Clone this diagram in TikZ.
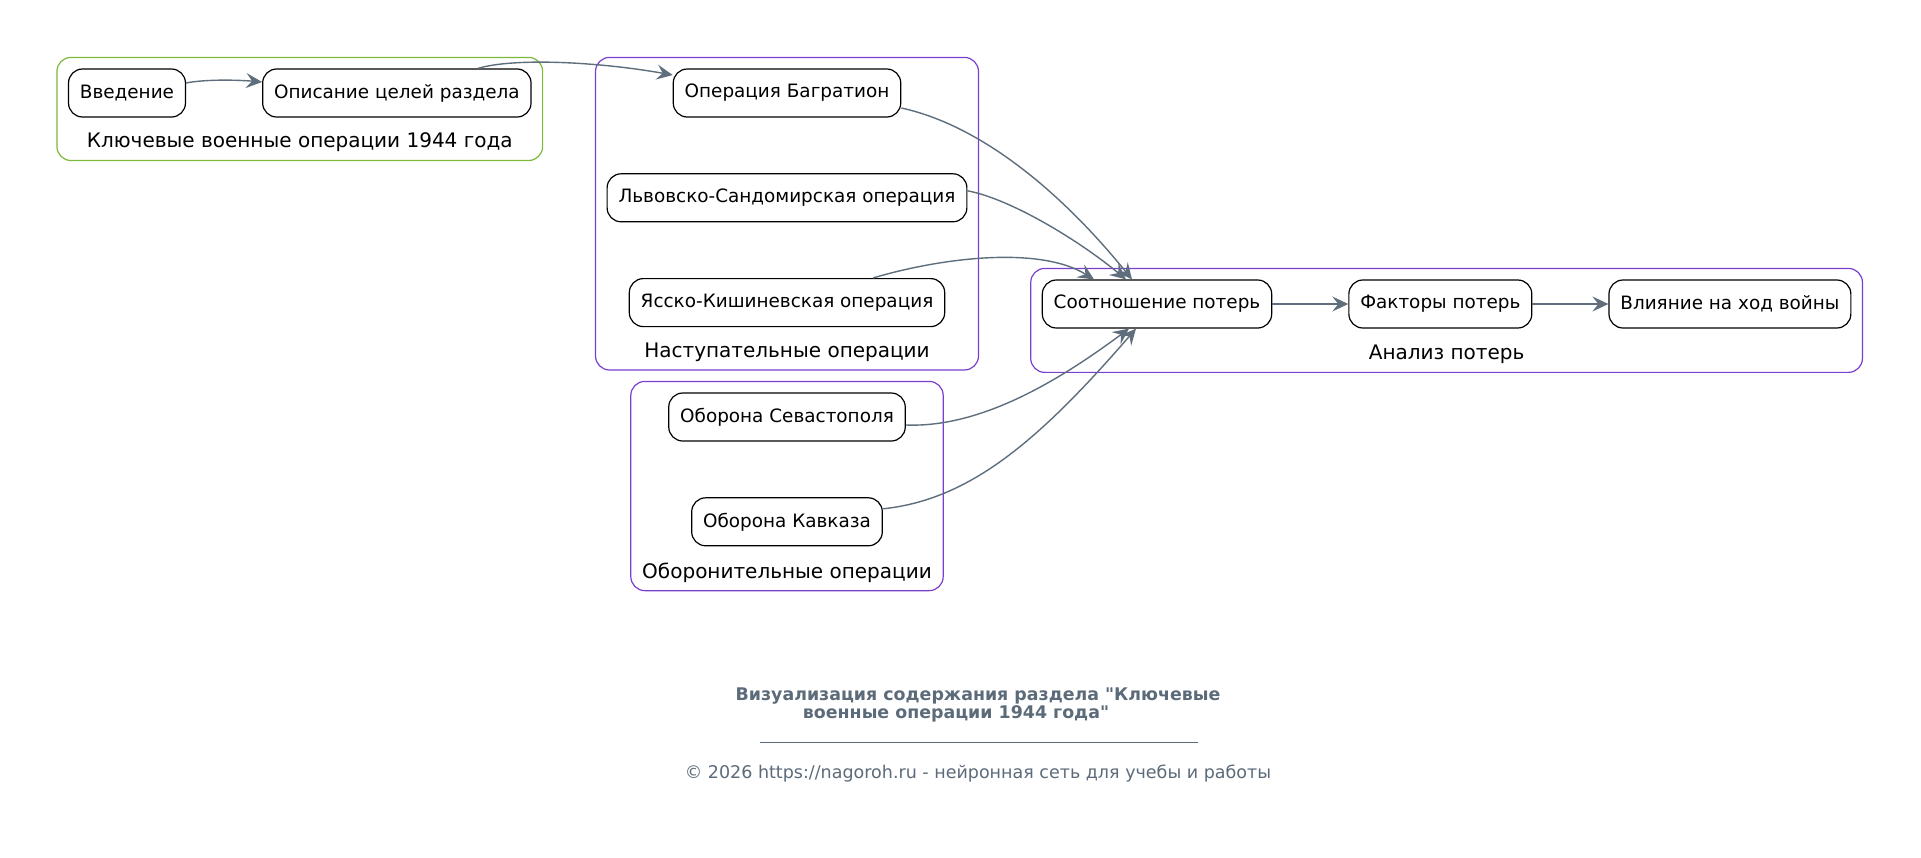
\documentclass[tikz,border=0pt]{standalone}
\usepackage{fontspec}
\setmainfont{DejaVu Sans}
\usetikzlibrary{arrows.meta,positioning,fit,backgrounds,calc}

\definecolor{edgegray}{HTML}{5F6E7C}
\definecolor{grpgreen}{HTML}{7CB83A}
\definecolor{grpviolet}{HTML}{7B3FD0}
\definecolor{notegray}{HTML}{5C6B7A}

\begin{document}
\begin{tikzpicture}[
    x=0.5pt, y=-0.5pt,
    node distance=27.8pt and 38pt,
    topic/.style={draw, rounded corners=7pt, fill=white, line width=0.6pt, minimum height=24pt, inner xsep=5.7pt, font=\fontsize{9.2}{11}\selectfont},
    grp/.style={draw, rounded corners=7pt, line width=0.6pt, inner sep=5.5pt},
    grplabel/.style={inner xsep=0pt, inner ysep=-1.5pt, font=\fontsize{10}{12}\selectfont},
    arrow/.style={->, >={Stealth[length=8pt, width=7.5pt, inset=3pt]}, draw=edgegray, line width=0.7pt}
]
    \useasboundingbox (0,0) rectangle (1921,857);

    % 1944: intro
    \node[topic] (intro) at (127,93) {Введение};
    \node[topic, right=of intro] (goals) {Описание целей раздела};
    \node[grplabel] (lab1) at ($(intro.south west)!0.5!(goals.south east)+(0,25)$) {Ключевые военные операции 1944 года};

    % offensives
    \node[topic] (bagr) at (787,93) {Операция Багратион};
    \node[topic, below=of bagr] (lvov) {Львовско-Сандомирская операция};
    \node[topic, below=of lvov] (yassy) {Ясско-Кишиневская операция};
    \node[grplabel] (lab2) at ($(yassy.south)+(0,25)$) {Наступательные операции};

    % defence
    \node[topic] (sevast) at (787,417) {Оборона Севастополя};
    \node[topic, below=of sevast] (kavkaz) {Оборона Кавказа};
    \node[grplabel] (lab4) at ($(kavkaz.south)+(0,26)$) {Оборонительные операции};

    % losses
    \node[topic] (ratio) at (1157,304) {Соотношение потерь};
    \node[topic, right=of ratio] (factors) {Факторы потерь};
    \node[topic, right=of factors] (impact) {Влияние на ход войны};
    \node[grplabel] (lab3) at ($(ratio.south west)!0.5!(impact.south east)+(0,26)$) {Анализ потерь};

    \begin{scope}[on background layer]
        \fill[white] (0,0) rectangle (1921,857);
        \node[grp, draw=grpgreen, fit=(intro)(goals)(lab1)] (keyops) {};
        \node[grp, draw=grpviolet, fit=(bagr)(lvov)(yassy)(lab2)] (offense) {};
        \node[grp, draw=grpviolet, fit=(sevast)(kavkaz)(lab4)] (defense) {};
        \node[grp, draw=grpviolet, fit=(ratio)(factors)(impact)(lab3)] (losses) {};
    \end{scope}

    \draw[arrow] ($(intro.east)+(0,-10)$) .. controls +(20,-4) and +(-23,-2) .. ($(goals.west)+(0,-11)$);
    \draw[arrow] ($(goals.north)+(81,0)$) .. controls +(37,-11) and +(-73,-13) .. ($(bagr.west)+(0,-18)$);
    \draw[arrow] ($(bagr.east)+(0,15)$) .. controls +(78,17) and +(-73,-90) .. ($(ratio.north)+(-25,0)$);
    \draw[arrow] ($(lvov.east)+(0,-7)$) .. controls +(43,8) and +(-47,-39) .. ($(ratio.north)+(-31,0)$);
    \draw[arrow] ($(yassy.north)+(86,0)$) .. controls +(67,-20) and +(-55,-34) .. ($(ratio.north)+(-63,0)$);
    \draw[arrow] ($(sevast.east)+(0,8)$) .. controls +(75,3) and +(-70,52) .. ($(ratio.south)+(-28,0)$);
    \draw[arrow] ($(kavkaz.east)+(0,-13)$) .. controls +(87,-9) and +(-97,112) .. ($(ratio.south)+(-21,0)$);
    \draw[arrow] (ratio) -- (factors);
    \draw[arrow] (factors) -- (impact);

    % caption
    \node[font=\fontsize{8.7}{9}\selectfont\bfseries, text=notegray, align=center] (title) at (978,705) {Визуализация содержания раздела \textquotedbl Ключевые\\военные операции 1944 года\textquotedbl\hspace*{22pt}};
    \coordinate (rulel) at (760,742);
    \coordinate (ruler) at (1198,742);
    \draw[notegray, line width=0.5pt] (rulel) -- (ruler);
    \node[font=\fontsize{8.75}{10}\selectfont, text=notegray] (copy) at (978,774) {© 2026 https://nagoroh.ru - нейронная сеть для учебы и работы};
\end{tikzpicture}
\end{document}
